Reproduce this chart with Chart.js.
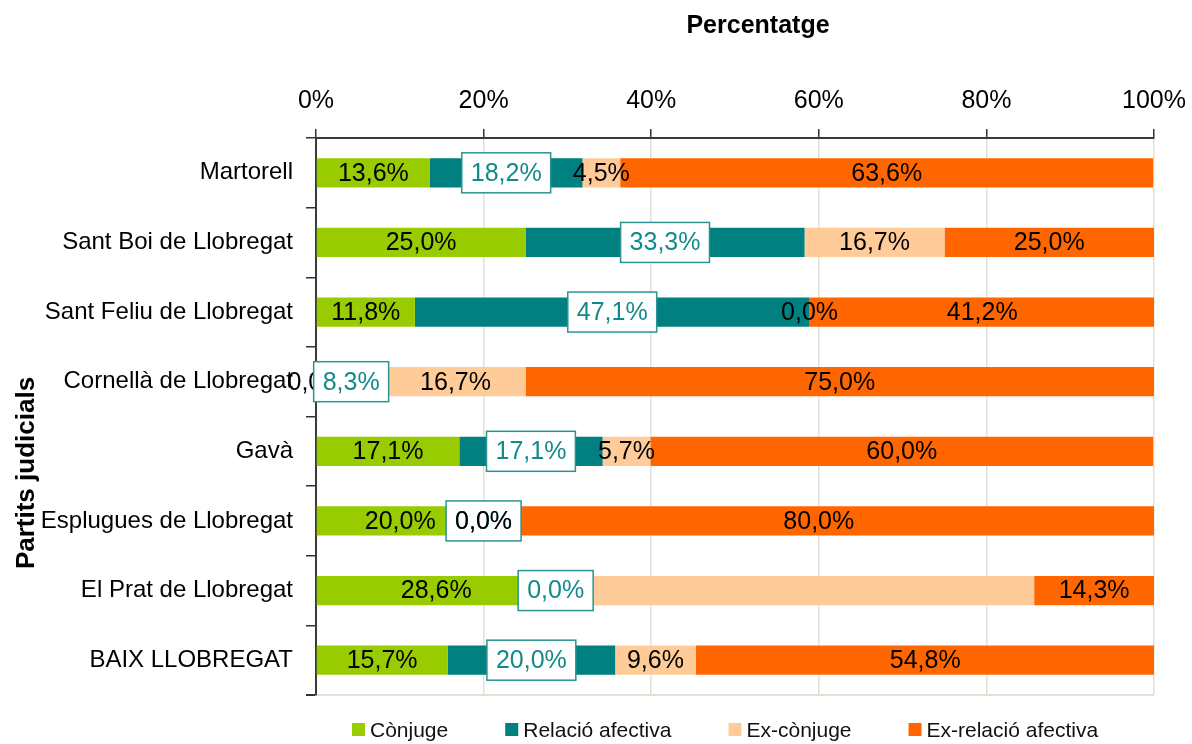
<!DOCTYPE html>
<html><head><meta charset="utf-8">
<script src="https://cdn.jsdelivr.net/npm/chart.js@4.4.0/dist/chart.umd.min.js"></script>
<style>html,body{margin:0;padding:0;background:#fff;}</style>
</head><body>
<canvas id="c" width="1192" height="744" style="display:block;width:1192px;height:744px"></canvas>
<script>
const categories = ['Martorell','Sant Boi de Llobregat','Sant Feliu de Llobregat','Cornellà de Llobregat','Gavà','Esplugues de Llobregat','El Prat de Llobregat','BAIX LLOBREGAT'];
const seriesNames = ['Cònjuge','Relació afectiva','Ex-cònjuge','Ex-relació afectiva'];
const conjuge = [13.6,25.0,11.8,0.0,17.1,20.0,28.6,15.7];
const relacioAfectiva = [18.2,33.3,47.1,8.3,17.1,0.0,0.0,20.0];
const exConjuge = [4.5,16.7,0.0,16.7,5.7,0.0,57.1,9.6];
const exRelacioAfectiva = [63.6,25.0,41.2,75.0,60.0,80.0,14.3,54.8];
const xTickStep = 20;
const xMax = 100;
const xTitle = 'Percentatge';
const yTitle = 'Partits judicials';
const seriesColors = ['#99cc00','#008080','#ffcc99','#ff6600'];
const hiddenLabels = [['El Prat de Llobregat','Ex-cònjuge']];

const FONT = "'Liberation Sans', Arial, sans-serif";
const fmt = v => v.toFixed(1).replace('.', ',') + '%';

const labelPlugin = {
  id: 'barLabels',
  afterDatasetsDraw(chart) {
    const ctx = chart.ctx;
    ctx.save();
    ctx.font = '25px ' + FONT;
    ctx.textAlign = 'center';
    ctx.textBaseline = 'middle';
    chart.data.datasets.forEach((ds, di) => {
      const meta = chart.getDatasetMeta(di);
      meta.data.forEach((el, i) => {
        if (hiddenLabels.some(h => h[0] === chart.data.labels[i] && h[1] === ds.label)) return;
        const txt = fmt(ds.data[i]);
        const cx = (el.x + el.base) / 2, cy = el.y;
        if (di === 1) {
          const w = ctx.measureText(txt).width + 18, h = 40;
          ctx.fillStyle = '#ffffff';
          ctx.fillRect(cx - w / 2, cy - h / 2, w, h);
          ctx.strokeStyle = '#2a9494';
          ctx.lineWidth = 1.5;
          ctx.strokeRect(cx - w / 2, cy - h / 2, w, h);
          ctx.fillStyle = '#138a8a';
        } else {
          ctx.fillStyle = '#000000';
        }
        ctx.fillText(txt, cx, cy + 1);
      });
    });
    ctx.restore();
  }
};

const decorPlugin = {
  id: 'decor',
  afterDraw(chart) {
    const ctx = chart.ctx;
    ctx.save();
    ctx.fillStyle = '#000';
    ctx.font = 'bold 25px ' + FONT;
    ctx.textAlign = 'center';
    ctx.textBaseline = 'middle';
    ctx.fillText(xTitle, 758, 26);
    ctx.save();
    ctx.translate(27, 473);
    ctx.rotate(-Math.PI / 2);
    ctx.font = 'bold 26px ' + FONT;
    ctx.fillText(yTitle, 0, 0);
    ctx.restore();
    ctx.font = '21px ' + FONT;
    ctx.textAlign = 'left';
    let x = 352;
    const y = 730;
    chart.data.datasets.forEach(ds => {
      ctx.fillStyle = ds.backgroundColor;
      ctx.fillRect(x, y - 7, 13, 13);
      x += 18;
      ctx.fillStyle = '#111';
      ctx.fillText(ds.label, x, y + 1);
      x += ctx.measureText(ds.label).width + 57;
    });
    ctx.restore();
  }
};

const seriesData = [conjuge, relacioAfectiva, exConjuge, exRelacioAfectiva];

new Chart(document.getElementById('c'), {
  type: 'bar',
  data: {
    labels: categories,
    datasets: seriesNames.map((name, i) => ({
      label: name,
      data: seriesData[i],
      backgroundColor: seriesColors[i],
      borderWidth: 0,
      barPercentage: 0.42,
      categoryPercentage: 1
    }))
  },
  options: {
    indexAxis: 'y',
    responsive: false,
    animation: false,
    devicePixelRatio: 1,
    layout: { padding: { left: 0, right: 38, top: 0, bottom: 49 } },
    plugins: { legend: { display: false }, title: { display: false }, tooltip: { enabled: false } },
    scales: {
      x: {
        position: 'top',
        stacked: true,
        min: 0,
        max: xMax,
        ticks: {
          stepSize: xTickStep,
          callback: v => v + '%',
          color: '#000',
          font: { family: FONT, size: 25 },
          padding: 13,
          maxRotation: 0
        },
        grid: { color: '#e4e1d4', tickColor: '#333', tickLength: 9, lineWidth: 1.5 },
        border: { display: true, color: '#3a3a3a', width: 2 },
        afterFit: s => { s.height = 138; s.paddingLeft = 0; s.paddingRight = 0; }
      },
      y: {
        stacked: true,
        ticks: { color: '#000', font: { family: FONT, size: 24 }, padding: 13 },
        grid: {
          offset: true,
          drawOnChartArea: true,
          color: c => (c.type === 'scale' ? '#e4e1d4' : 'rgba(0,0,0,0)'),
          tickColor: '#333',
          tickLength: 10,
          lineWidth: c => (c.type === 'scale' ? 2 : 1.5)
        },
        border: { display: true, color: '#3a3a3a', width: 2 },
        afterFit: s => { s.width = 316; }
      }
    }
  },
  plugins: [labelPlugin, decorPlugin]
});
</script>
</body></html>
